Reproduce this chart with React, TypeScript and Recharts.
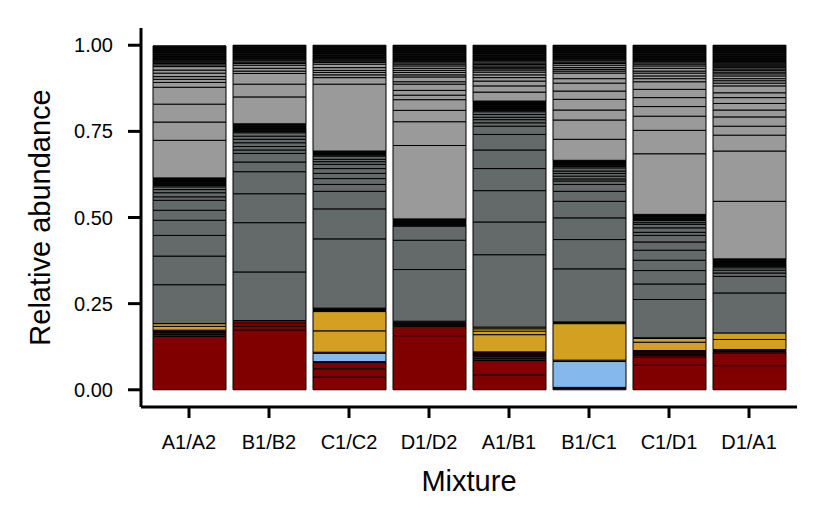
import React from 'react';
import { BarChart, Bar, XAxis, YAxis } from 'recharts';

const mixtures = ['A1/A2', 'B1/B2', 'C1/C2', 'D1/D2', 'A1/B1', 'B1/C1', 'C1/D1', 'D1/A1'];
const yTicks = [0, 0.25, 0.5, 0.75, 1];

// segment sizes per mixture, bottom to top, within each colour group
const redSegments: number[][] = [
  [0.155, 0.006, 0.005, 0.004, 0.003],
  [0.174, 0.010, 0.009, 0.008],
  [0.037, 0.024, 0.018, 0.003],
  [0.157, 0.027, 0.004, 0.003, 0.003, 0.002],
  [0.043, 0.042, 0.006, 0.006, 0.004, 0.003, 0.003, 0.003],
  [0.004, 0.003],
  [0.071, 0.023, 0.005, 0.004, 0.004, 0.003, 0.002, 0.002],
  [0.070, 0.037, 0.004, 0.003, 0.003],
];

const blueSegments: number[][] = [
  [],
  [],
  [0.024, 0.003],
  [0.003],
  [],
  [0.075, 0.004],
  [],
  [],
];

const goldSegments: number[][] = [
  [0.011, 0.008],
  [],
  [0.062, 0.056, 0.003, 0.003, 0.002, 0.002],
  [],
  [0.050, 0.010, 0.007, 0.005],
  [0.106, 0.003, 0.002],
  [0.024, 0.011, 0.002],
  [0.029, 0.019],
];

const darkGraySegments: number[][] = [
  [0.113, 0.083, 0.060, 0.044, 0.029, 0.029, 0.010, 0.012, 0.009, 0.008,
    0.004, 0.003, 0.003, 0.002, 0.002, 0.002, 0.002, 0.002, 0.002, 0.002, 0.002],
  [0.141, 0.143, 0.084, 0.064, 0.028, 0.025, 0.010, 0.010, 0.011, 0.010, 0.009, 0.010,
    0.004, 0.003, 0.003, 0.002, 0.002, 0.002, 0.002, 0.002, 0.002, 0.002, 0.002],
  [0.201, 0.087, 0.051, 0.020, 0.017, 0.015, 0.014, 0.012, 0.008, 0.007, 0.009,
    0.003, 0.002, 0.002, 0.002, 0.002, 0.002, 0.002],
  [0.150, 0.085, 0.041,
    0.003, 0.002, 0.002, 0.002, 0.002, 0.002, 0.002, 0.002, 0.002, 0.002],
  [0.210, 0.095, 0.091, 0.064, 0.054, 0.045, 0.024, 0.010, 0.009, 0.007, 0.008, 0.008,
    0.004, 0.003, 0.002, 0.002, 0.002, 0.002, 0.002, 0.002, 0.002, 0.002, 0.002, 0.002, 0.002, 0.002],
  [0.154, 0.085, 0.063, 0.048, 0.029, 0.020, 0.010, 0.006, 0.008, 0.008, 0.007, 0.009,
    0.004, 0.002, 0.002, 0.002, 0.002, 0.002, 0.002, 0.002, 0.002, 0.002],
  [0.111, 0.045, 0.039, 0.030, 0.029, 0.024, 0.019, 0.009, 0.013, 0.010, 0.005, 0.006,
    0.002, 0.002, 0.002, 0.002, 0.002, 0.002, 0.002, 0.002, 0.002],
  [0.116, 0.048, 0.010, 0.008, 0.007,
    0.004, 0.003, 0.003, 0.002, 0.002, 0.002, 0.002, 0.002, 0.002, 0.002, 0.002],
];

const lightGraySegments: number[][] = [
  [0.109, 0.053, 0.052, 0.049, 0.014, 0.009, 0.008, 0.010, 0.009, 0.010,
    0.005, 0.004, 0.004, 0.003, 0.003,
    0.002, 0.002, 0.002, 0.002, 0.002, 0.002, 0.002, 0.002, 0.002, 0.002,
    0.002, 0.002, 0.002, 0.002, 0.002, 0.002, 0.002, 0.002, 0.002, 0.002, 0.001],
  [0.078, 0.037, 0.031, 0.007, 0.008, 0.009,
    0.005, 0.004, 0.004, 0.003, 0.003,
    0.002, 0.002, 0.002, 0.002, 0.002, 0.002, 0.002, 0.002, 0.002, 0.002,
    0.002, 0.002, 0.002, 0.002, 0.002, 0.002, 0.002, 0.002, 0.002, 0.001],
  [0.194, 0.019, 0.008, 0.007, 0.006, 0.008, 0.010,
    0.005, 0.004, 0.003, 0.003,
    0.002, 0.002, 0.002, 0.002, 0.002, 0.002, 0.002, 0.002, 0.002, 0.002,
    0.002, 0.002, 0.002, 0.002, 0.002, 0.002, 0.002, 0.002, 0.002, 0.002],
  [0.213, 0.069, 0.033, 0.031, 0.013, 0.014, 0.018, 0.007, 0.014, 0.006, 0.007, 0.006, 0.006, 0.007,
    0.005, 0.004, 0.004, 0.003, 0.003,
    0.002, 0.002, 0.002, 0.002, 0.002, 0.002, 0.002, 0.002, 0.002, 0.002,
    0.002, 0.002, 0.002, 0.002, 0.002, 0.002, 0.002, 0.002, 0.002, 0.002, 0.001],
  [0.026, 0.018, 0.014, 0.010, 0.008, 0.008, 0.006,
    0.004, 0.004, 0.004, 0.004, 0.004, 0.004, 0.004,
    0.002, 0.002, 0.002, 0.002, 0.002, 0.002, 0.002, 0.002, 0.002, 0.002, 0.002,
    0.002, 0.002, 0.002, 0.002, 0.002, 0.002, 0.002, 0.002, 0.002, 0.002, 0.002],
  [0.061, 0.056, 0.029, 0.031, 0.024, 0.023, 0.013, 0.016, 0.006, 0.005, 0.005, 0.007,
    0.005, 0.004, 0.004, 0.003, 0.003,
    0.002, 0.002, 0.002, 0.002, 0.002, 0.002, 0.002, 0.002, 0.002, 0.002,
    0.002, 0.002, 0.002, 0.002, 0.002, 0.002, 0.002, 0.002, 0.002, 0.001],
  [0.176, 0.068, 0.041, 0.028, 0.026, 0.024, 0.022, 0.009, 0.008, 0.008, 0.006, 0.008, 0.007,
    0.005, 0.004, 0.004, 0.003, 0.003,
    0.002, 0.002, 0.002, 0.002, 0.002, 0.002, 0.002, 0.002, 0.002, 0.002,
    0.002, 0.002, 0.002, 0.002, 0.002, 0.002, 0.002, 0.002, 0.002, 0.002, 0.001],
  [0.167, 0.146, 0.046, 0.026, 0.027, 0.020, 0.019, 0.017, 0.014, 0.020, 0.008, 0.007, 0.006, 0.008,
    0.006, 0.005, 0.005, 0.004, 0.004, 0.004, 0.003, 0.003, 0.003, 0.003,
    0.002, 0.002, 0.002, 0.002, 0.002, 0.002, 0.002, 0.002, 0.002, 0.002, 0.002, 0.002,
    0.002, 0.002, 0.002, 0.002, 0.002, 0.002, 0.002, 0.002, 0.002, 0.002, 0.002, 0.002, 0.001],
];

const groups = [
  { key: 'red', color: '#800000', segs: redSegments },
  { key: 'blue', color: '#85b9ee', segs: blueSegments },
  { key: 'gold', color: '#d4a021', segs: goldSegments },
  { key: 'dgray', color: '#646a69', segs: darkGraySegments },
  { key: 'lgray', color: '#9a9a9a', segs: lightGraySegments },
];

const barDefs = groups.flatMap((g) => {
  const n = Math.max(...g.segs.map((s) => s.length));
  return Array.from({ length: n }, (_, j) => ({ key: `${g.key}${j}`, color: g.color }));
});

const rows = mixtures.map((m, i) => {
  const row: Record<string, any> = { mixture: m };
  barDefs.forEach((b) => { row[b.key] = 0; });
  groups.forEach((g) => g.segs[i].forEach((v, j) => { row[`${g.key}${j}`] = v; }));
  return row;
});

const FONT = '"Liberation Sans", Arial, Helvetica, sans-serif';

export default function App() {
  return (
    <div style={{ position: 'absolute', left: 0, top: 0, background: '#fff' }}>
      <BarChart
        width={825}
        height={525}
        data={rows}
        margin={{ top: 28, right: 28, bottom: 0, left: 0 }}
        barSize={73}
      >
        <XAxis
          dataKey="mixture"
          type="category"
          padding={{ left: 8, right: 8 }}
          height={118}
          axisLine={{ stroke: '#000', strokeWidth: 3 }}
          tickLine={{ stroke: '#000', strokeWidth: 3 }}
          tickSize={11}
          tickMargin={17}
          tick={{ fill: '#000', fontSize: 20, fontFamily: FONT }}
          interval={0}
          label={{ value: 'Mixture', position: 'insideBottom', offset: 34, style: { fontSize: 29, fill: '#000', fontFamily: FONT } }}
        />
        <YAxis
          type="number"
          domain={[-0.05, 1.05]}
          ticks={yTicks}
          width={141}
          allowDataOverflow
          axisLine={{ stroke: '#000', strokeWidth: 3 }}
          tickLine={{ stroke: '#000', strokeWidth: 3 }}
          tickSize={13}
          tickMargin={15}
          tickFormatter={(v: number) => v.toFixed(2)}
          tick={{ fill: '#000', fontSize: 20, fontFamily: FONT }}
          label={{ value: 'Relative abundance', angle: -90, position: 'insideLeft', offset: 40, style: { textAnchor: 'middle', fontSize: 29, fill: '#000', fontFamily: FONT } }}
        />
        {barDefs.map((b) => (
          <Bar
            key={b.key}
            dataKey={b.key}
            stackId="s"
            fill={b.color}
            stroke="#000"
            strokeWidth={1}
            isAnimationActive={false}
          />
        ))}
      </BarChart>
    </div>
  );
}
